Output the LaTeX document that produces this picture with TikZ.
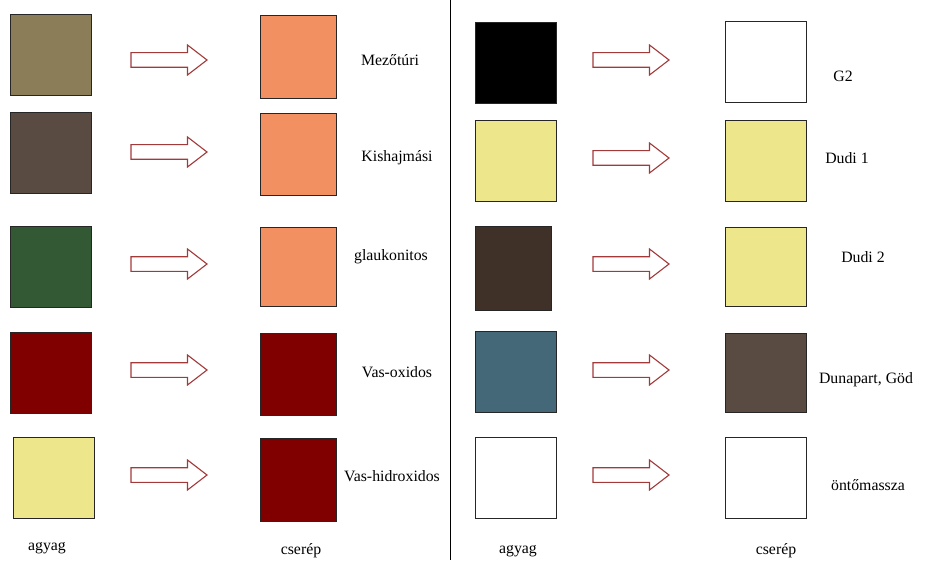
\documentclass[tikz,border=0pt]{standalone}
\usepackage{fontspec}
\setmainfont{Liberation Serif}
\definecolor{olivetan}{HTML}{8B7D57}
\definecolor{greybrown}{HTML}{5A4B42}
\definecolor{darkgreen}{HTML}{325834}
\definecolor{maroonred}{HTML}{800000}
\definecolor{khaki}{HTML}{EDE68A}
\definecolor{salmon}{HTML}{F29062}
\definecolor{darkbrown}{HTML}{3F3127}
\definecolor{slateblue}{HTML}{446877}
\definecolor{arrowred}{HTML}{A33A3A}
\begin{document}
\begin{tikzpicture}[x=1pt,y=-1pt,
  sq/.style={draw=black!85, line width=0.8pt, inner sep=0pt, minimum width=81pt, minimum height=81pt},
  hollowarrow/.style={draw=arrowred, line width=1.1pt, fill=white, line join=miter},
  lbl/.style={inner sep=0pt, font=\fontsize{15.8}{18}\selectfont}]
\useasboundingbox (0,0) rectangle (929,564);
% left column: agyag
\node[sq, fill=olivetan] (la1) at (50.5,54.5) {};
\node[sq, fill=greybrown] (la2) at (50.5,153) {};
\node[sq, fill=darkgreen] (la3) at (50.5,266.5) {};
\node[sq, fill=maroonred] (la4) at (50.5,373) {};
\node[sq, fill=khaki] (la5) at (53.5,478) {};
% left column: cserep
\node[sq, fill=salmon, minimum width=76pt, minimum height=83pt] (lc1) at (298,56.5) {};
\node[sq, fill=salmon, minimum width=76pt, minimum height=82pt] (lc2) at (298,154) {};
\node[sq, fill=salmon, minimum width=76pt, minimum height=79pt] (lc3) at (298,266.5) {};
\node[sq, fill=maroonred, minimum width=76pt, minimum height=82pt] (lc4) at (298,374) {};
\node[sq, fill=maroonred, minimum width=76pt, minimum height=83pt] (lc5) at (298,479.5) {};
% right column: agyag
\node[sq, fill=black] (ra1) at (515.5,62.5) {};
\node[sq, fill=khaki] (ra2) at (515.5,160.5) {};
\node[sq, fill=darkbrown, minimum width=76pt, minimum height=84pt] (ra3) at (513,268) {};
\node[sq, fill=slateblue] (ra4) at (515.5,372) {};
\node[sq, fill=white] (ra5) at (515.5,478) {};
% right column: cserep
\node[sq, fill=white] (rc1) at (765.5,62) {};
\node[sq, fill=khaki] (rc2) at (765.5,160.5) {};
\node[sq, fill=khaki, minimum height=79pt] (rc3) at (765.5,266.5) {};
\node[sq, fill=greybrown, minimum height=79pt] (rc4) at (765.5,372.5) {};
\node[sq, fill=white] (rc5) at (765.5,478) {};
% arrows
\foreach \ax/\ay in {131/60, 131/152, 131/264, 131/370, 131/475, 593/60, 593/158, 593/264, 593/370, 593/475}{
  \draw[hollowarrow] (\ax,\ay-7.3) -- (\ax+56.5,\ay-7.3) -- (\ax+56.5,\ay-15) -- (\ax+76,\ay)
    -- (\ax+56.5,\ay+15) -- (\ax+56.5,\ay+7.3) -- (\ax,\ay+7.3) -- cycle;
}
% labels
\node[lbl] (t1) at (390,60) {Mezőtúri};
\node[lbl] (t2) at (397,158) {Kishajmási};
\node[lbl] (t3) at (391,257) {glaukonitos};
\node[lbl] (t4) at (397,372) {Vas-oxidos};
\node[lbl] (t5) at (392,476) {Vas-hidroxidos};
\node[lbl] (u1) at (843,76) {G2};
\node[lbl] (u2) at (847,158) {Dudi 1};
\node[lbl] (u3) at (863,257) {Dudi 2};
\node[lbl] (u4) at (866,380) {Dunapart, Göd};
\node[lbl] (u5) at (868,485) {öntőmassza};
\node[lbl] (b1) at (47,548) {agyag};
\node[lbl] (b2) at (301,551) {cserép};
\node[lbl] (b3) at (518,551) {agyag};
\node[lbl] (b4) at (776,551) {cserép};
% divider
\coordinate (dtop) at (450,0);
\coordinate (dbot) at (450,560);
\draw[line width=1pt] (dtop) -- (dbot);
\end{tikzpicture}
\end{document}
